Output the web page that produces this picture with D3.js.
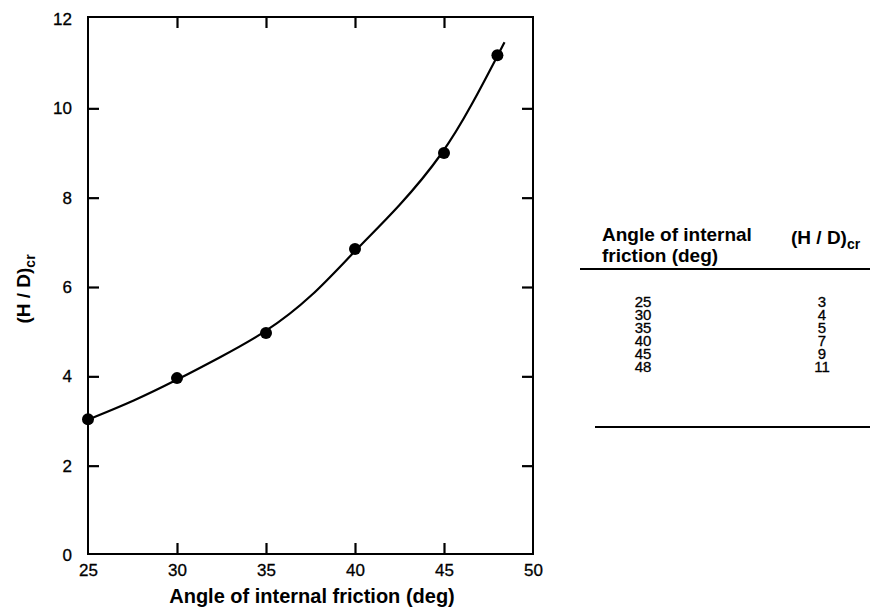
<!DOCTYPE html>
<html>
<head>
<meta charset="utf-8">
<script src="https://cdn.jsdelivr.net/npm/d3@7"></script>
<style>
  html, body { margin: 0; padding: 0; background: #fff; }
  svg { display: block; font-family: "Liberation Sans", Arial, Helvetica, sans-serif; }
</style>
</head>
<body>
<svg id="chart" width="872" height="609"></svg>
<script>
// ---- Data ----
const pointAngles = [25, 30, 35, 40, 45, 48];
const pointHD = [3.04, 3.96, 4.97, 6.85, 9.0, 11.19];

// fitted curve
const curveAngles = [25, 27.6, 30, 32.3, 35, 37.6, 40, 42.5, 45, 46.6, 48, 48.4];
const curveHD = [3.03, 3.45, 3.92, 4.4, 4.98, 5.78, 6.82, 7.8, 9.0, 10.1, 11.17, 11.48];

const xTicks = [25, 30, 35, 40, 45, 50];
const yTicks = [0, 2, 4, 6, 8, 10, 12];

const tableAngles = ["25", "30", "35", "40", "45", "48"];
const tableHD = ["3", "4", "5", "7", "9", "11"];

const xLabel = "Angle of internal friction (deg)";
const yLabelMain = "(H / D)";
const yLabelSub = "cr";
const tableHeadLeft = ["Angle of internal", "friction (deg)"];

// ---- Layout ----
const svg = d3.select("#chart");
const L = 88, R = 533, T = 17, B = 554;
const x = d3.scaleLinear().domain([25, 50]).range([L, R]);
const y = d3.scaleLinear().domain([0, 12]).range([555, 19]);

const tickLen = 11;

// Frame
svg.append("rect")
  .attr("x", L).attr("y", T).attr("width", R - L).attr("height", B - T)
  .attr("fill", "none").attr("stroke", "#000").attr("stroke-width", 2);

// Left axis
const gL = svg.append("g").attr("transform", `translate(${L},0)`)
  .call(d3.axisLeft(y).tickValues(yTicks).tickSize(-tickLen).tickPadding(16).tickFormat(d3.format("d")));
// Bottom axis
const gB = svg.append("g").attr("transform", `translate(0,${B})`)
  .call(d3.axisBottom(x).tickValues(xTicks).tickSize(-tickLen).tickPadding(10).tickFormat(d3.format("d")));
// Right axis (ticks only)
const gR = svg.append("g").attr("transform", `translate(${R},0)`)
  .call(d3.axisRight(y).tickValues(yTicks.slice(1, -1)).tickSize(-tickLen).tickFormat(""));
// Top axis (ticks only)
const gT = svg.append("g").attr("transform", `translate(0,${T})`)
  .call(d3.axisTop(x).tickValues(xTicks.slice(1, -1)).tickSize(-tickLen).tickFormat(""));

[gL, gB, gR, gT].forEach(g => {
  g.select(".domain").remove();
  g.selectAll(".tick line").attr("stroke", "#000").attr("stroke-width", 2.2);
  g.selectAll(".tick text").attr("fill", "#000").attr("font-size", 17)
    .attr("stroke", "#000").attr("stroke-width", 0.3)
    .attr("font-family", "'Liberation Sans', Arial, sans-serif");
});
gL.selectAll(".tick line").filter(d => d === 0 || d === 12).remove();
gB.selectAll(".tick line").filter(d => d === 25 || d === 50).remove();

// Curve
const curveData = curveAngles.map((a, i) => [a, curveHD[i]]);
svg.append("path")
  .datum(curveData)
  .attr("fill", "none").attr("stroke", "#000").attr("stroke-width", 2.2)
  .attr("d", d3.line().x(d => x(d[0])).y(d => y(d[1])).curve(d3.curveBasis));

// Points
svg.selectAll("circle.pt")
  .data(pointAngles.map((a, i) => [a, pointHD[i]]))
  .enter().append("circle")
  .attr("class", "pt")
  .attr("cx", d => x(d[0])).attr("cy", d => y(d[1])).attr("r", 6)
  .attr("fill", "#000");

// Axis labels
svg.append("text")
  .attr("x", 312).attr("y", 603)
  .attr("text-anchor", "middle").attr("font-weight", "bold").attr("font-size", 20)
  .attr("fill", "#000")
  .text(xLabel);

const yl = svg.append("text")
  .attr("transform", "translate(30,289) rotate(-90)")
  .attr("text-anchor", "middle").attr("font-weight", "bold").attr("font-size", 19)
  .attr("fill", "#000");
yl.append("tspan").text(yLabelMain);
yl.append("tspan").attr("font-size", 14).attr("dy", 5).text(yLabelSub);

// ---- Table ----
const tbl = svg.append("g");
tbl.selectAll("text.hl").data(tableHeadLeft).enter().append("text")
  .attr("class", "hl")
  .attr("x", 602).attr("y", (d, i) => 241 + i * 21)
  .attr("font-weight", "bold").attr("font-size", 19).attr("fill", "#000")
  .text(d => d);

const hr = tbl.append("text")
  .attr("x", 791).attr("y", 244)
  .attr("font-weight", "bold").attr("font-size", 19).attr("fill", "#000");
hr.append("tspan").text(yLabelMain);
hr.append("tspan").attr("font-size", 14).attr("dy", 5).text(yLabelSub);

tbl.append("line").attr("x1", 580).attr("x2", 870).attr("y1", 269).attr("y2", 269)
  .attr("stroke", "#000").attr("stroke-width", 2.2);
tbl.append("line").attr("x1", 595).attr("x2", 870).attr("y1", 427).attr("y2", 427)
  .attr("stroke", "#000").attr("stroke-width", 2);

const rowY = d3.scalePoint().domain(d3.range(tableAngles.length)).range([302, 367]);
tbl.selectAll("text.c1").data(tableAngles).enter().append("text")
  .attr("class", "c1")
  .attr("x", 643).attr("y", (d, i) => rowY(i)).attr("dy", "0.36em")
  .attr("text-anchor", "middle").attr("font-size", 15).attr("fill", "#000")
  .attr("stroke", "#000").attr("stroke-width", 0.3)
  .text(d => d);
tbl.selectAll("text.c2").data(tableHD).enter().append("text")
  .attr("class", "c2")
  .attr("x", 822).attr("y", (d, i) => rowY(i)).attr("dy", "0.36em")
  .attr("text-anchor", "middle").attr("font-size", 15).attr("fill", "#000")
  .attr("stroke", "#000").attr("stroke-width", 0.3)
  .text(d => d);
</script>
</body>
</html>
